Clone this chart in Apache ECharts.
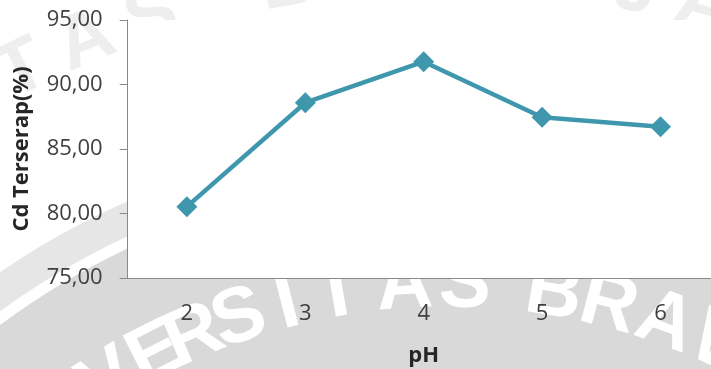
<!DOCTYPE html>
<html>
<head>
<meta charset="utf-8">
<script src="https://cdn.jsdelivr.net/npm/echarts@6/dist/echarts.min.js"></script>
<style>
  html, body { margin: 0; padding: 0; background: #fff; }
  #chart { width: 711px; height: 369px; }
</style>
</head>
<body>
<div id="chart"></div>
<script>
// pH values on the category axis
const phLabels = ['2', '3', '4', '5', '6'];
// Cd adsorbed (%) at each pH
const cdAdsorbed = [80.53, 88.59, 91.77, 87.46, 86.73];
// value axis range
const yMin = 75;
const yMax = 95;
const yStep = 5;

const axisGray = '#898989';
const textColor = '#404040';
const lineColor = '#3f97ae';

// plot box (the last category runs a little past the right edge)
const gridLeft = 127.7, gridTop = 20, gridWidth = 592, gridHeight = 258;

// Background seal: concentric discs with lettering along an arc
const sealCx = 447, sealCy = 926;
const sealLetters = [
  ['U', -44], ['N', -39.5], ['I', -35.5], ['V', -31.8], ['E', -27], ['R', -23.2],
  ['S', -18.9], ['I', -14.4], ['T', -9.8], ['A', -3.8], ['S', 1.6],
  ['B', 9.6], ['R', 14.6], ['A', 19.9], ['W', 26], ['I', 31], ['J', 34.5],
  ['A', 38.5], ['Y', 43.5], ['A', 48.5]
];
const outerLetters = 'UNIVERSITAS BRAWIJAYA UNIVERSITAS BRAWIJAYA'.split('');

function arcText(letters, radius, color, size, z) {
  return letters.map(function (item) {
    const deg = item[1] * Math.PI / 180;
    return {
      type: 'text',
      silent: true,
      z: z,
      x: sealCx + radius * Math.sin(deg),
      y: sealCy - radius * Math.cos(deg),
      rotation: -deg,
      style: {
        text: item[0],
        fill: color,
        font: 'bold ' + size + 'px "Liberation Sans", sans-serif',
        align: 'center',
        verticalAlign: 'middle',
        textAlign: 'center',
        textVerticalAlign: 'middle'
      }
    };
  });
}

const outerPlaced = outerLetters.map(function (ch, i) {
  return [ch, -60 + i * 4.2];
});

const sealElements = [
  { type: 'circle', silent: true, z: -20, shape: { cx: sealCx, cy: sealCy, r: 792 }, style: { fill: '#e6e6e6' } },
  { type: 'circle', silent: true, z: -19, shape: { cx: sealCx, cy: sealCy, r: 760 }, style: { fill: '#ffffff' } },
  { type: 'circle', silent: true, z: -18, shape: { cx: sealCx, cy: sealCy, r: 749 }, style: { fill: '#d9d9d9' } }
]
  .concat(arcText(outerPlaced, 955, '#eeeeee', 76, -21))
  .concat(arcText(sealLetters, 641, '#ffffff', 78, -17))
  .concat([{
    // opaque plot area over the seal
    type: 'rect', silent: true, z: -5,
    shape: { x: gridLeft, y: gridTop, width: gridWidth, height: gridHeight },
    style: { fill: '#ffffff' }
  }]);

const chart = echarts.init(document.getElementById('chart'), null, { renderer: 'canvas' });

chart.setOption({
  backgroundColor: '#ffffff',
  animation: false,
  graphic: { elements: sealElements },
  grid: {
    left: gridLeft,
    top: gridTop,
    width: gridWidth,
    height: gridHeight,
    containLabel: false,
    outerBoundsMode: 'none'
  },
  xAxis: {
    type: 'category',
    data: phLabels,
    boundaryGap: true,
    name: 'pH',
    nameLocation: 'middle',
    nameGap: 67,
    nameTextStyle: { fontFamily: 'Open Sans', fontWeight: 'bold', fontSize: 22, color: '#262626' },
    axisLine: { show: true, lineStyle: { color: axisGray, width: 1 } },
    axisTick: { show: false },
    axisLabel: { fontFamily: 'Open Sans', fontSize: 22, color: textColor, margin: 25 },
    splitLine: { show: false }
  },
  yAxis: {
    type: 'value',
    min: yMin,
    max: yMax,
    interval: yStep,
    name: 'Cd Terserap(%)',
    nameLocation: 'middle',
    nameGap: 95,
    nameRotate: 90,
    nameTextStyle: { fontFamily: 'Open Sans', fontWeight: 'bold', fontSize: 22, color: '#262626' },
    axisLine: { show: true, lineStyle: { color: axisGray, width: 1 } },
    axisTick: { show: true, length: 8, inside: false, lineStyle: { color: axisGray, width: 1 } },
    axisLabel: {
      fontFamily: 'Open Sans',
      fontSize: 22,
      color: textColor,
      margin: 25,
      formatter: function (v) { return v.toFixed(2).replace('.', ','); }
    },
    splitLine: { show: false }
  },
  series: [{
    type: 'line',
    data: cdAdsorbed,
    symbol: 'diamond',
    symbolSize: 21,
    lineStyle: { color: lineColor, width: 4.5 },
    itemStyle: { color: lineColor },
    z: 3
  }]
});
</script>
</body>
</html>
